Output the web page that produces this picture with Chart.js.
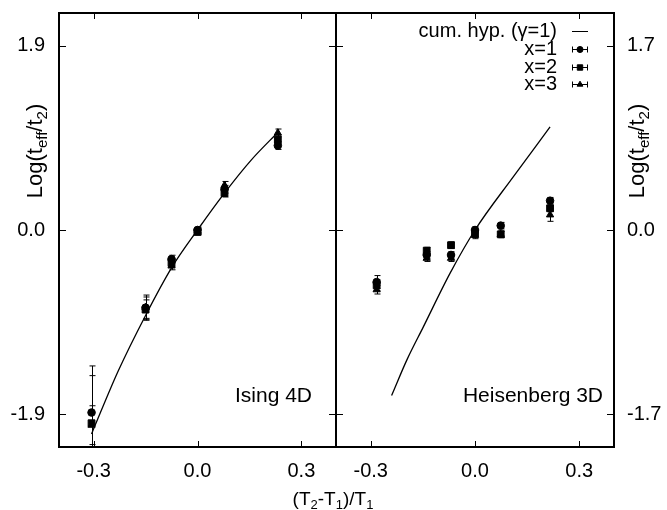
<!DOCTYPE html>
<html><head><meta charset="utf-8">
<script src="https://cdn.jsdelivr.net/npm/chart.js@4/dist/chart.umd.min.js"></script>
<style>
html,body{margin:0;padding:0;background:#fff;}
#wrap{position:relative;width:667px;height:510px;overflow:hidden;}
#wrap canvas{position:absolute;left:0;top:0;}
</style></head><body>
<div id="wrap"><canvas id="c1" width="667" height="510"></canvas><canvas id="c2" width="667" height="510"></canvas></div>
<script>
// ---------- data ----------
const xTicks = [-0.3, 0.0, 0.3];
const yTicksLeft = [-1.9, 0.0, 1.9];
const yTicksRight = [-1.7, 0.0, 1.7];

// Ising 4D (left panel)
const isingT = [-0.306, -0.150, -0.075, 0.000, 0.078, 0.232];
const ising_x1 = [-1.88, -0.80, -0.30, 0.00, 0.42, 0.87];
const ising_x1_err = [0.48, 0.11, 0.04, 0.03, 0.04, 0.04];
const ising_x2 = [-1.99, -0.82, -0.34, -0.02, 0.38, 0.93];
const ising_x2_err = [0.49, 0.10, 0.04, 0.03, 0.04, 0.04];
const ising_x3 = [-2.01, -0.80, -0.37, -0.01, 0.46, 1.00];
const ising_x3_err = [0.20, 0.13, 0.04, 0.03, 0.04, 0.04];
const isingCurveT = [-0.306, -0.230, -0.150, -0.075, 0.000, 0.080, 0.155, 0.233];
const isingCurve = [-2.10, -1.46, -0.88, -0.39, 0.00, 0.39, 0.72, 1.01];

// Heisenberg 3D (right panel)
const heisT = [-0.283, -0.139, -0.069, 0.000, 0.074, 0.216];
const heis_x1 = [-0.48, -0.23, -0.23, 0.00, 0.04, 0.27];
const heis_x1_err = [0.06, 0.03, 0.03, 0.03, 0.03, 0.03];
const heis_x2 = [-0.51, -0.19, -0.14, -0.03, -0.04, 0.20];
const heis_x2_err = [0.05, 0.03, 0.03, 0.03, 0.03, 0.03];
const heis_x3 = [-0.55, -0.26, -0.26, -0.05, -0.04, 0.14];
const heis_x3_err = [0.04, 0.03, 0.03, 0.03, 0.03, 0.06];
const heisCurveT = [-0.240, -0.195, -0.149, -0.072, 0.000, 0.110, 0.216];
const heisCurve = [-1.525, -1.19, -0.895, -0.40, 0.00, 0.49, 0.95];

const seriesLabels = ['cum. hyp. (\u03b3=1)', 'x=1', 'x=2', 'x=3'];
// ---------- helpers ----------
const FONT = "'Liberation Sans', Arial, Helvetica, sans-serif";
const xy = (xs, ys) => xs.map((v, i) => ({x: v, y: ys[i]}));

function drawParts(ctx, parts, cx, cy, big, small, subDrop) {
  let w = 0;
  parts.forEach(p => { ctx.font = (p.sub ? small : big) + 'px ' + FONT; w += ctx.measureText(p.t).width; });
  let x = cx - w / 2;
  ctx.textAlign = 'left'; ctx.textBaseline = 'alphabetic';
  parts.forEach(p => {
    ctx.font = (p.sub ? small : big) + 'px ' + FONT;
    ctx.fillText(p.t, x, cy + (p.sub ? subDrop : 0));
    x += ctx.measureText(p.t).width;
  });
}
const logTitle = [{t:'Log(t'},{t:'eff',sub:true},{t:'/t'},{t:'2',sub:true},{t:')'}];
const xTitle = [{t:'(T'},{t:'2',sub:true},{t:'-T'},{t:'1',sub:true},{t:')/T'},{t:'1',sub:true}];

const panelPlugin = {
  id: 'panel',
  afterDatasetsDraw(chart, args, o) {
    const {ctx, chartArea: a, scales: {x, y}} = chart;
    ctx.save();
    ctx.strokeStyle = '#000'; ctx.fillStyle = '#000';
    // error bars
    ctx.save();
    ctx.beginPath(); ctx.rect(a.left, a.top, a.right - a.left, a.bottom - a.top); ctx.clip();
    ctx.lineWidth = 1;
    chart.data.datasets.forEach(ds => {
      if (!ds.err) return;
      ds.data.forEach((p, j) => {
        const e = ds.err[j];
        const px = Math.round(x.getPixelForValue(p.x)) + 0.5;
        const y1 = y.getPixelForValue(p.y + e), y2 = y.getPixelForValue(p.y - e);
        ctx.beginPath();
        ctx.moveTo(px, y1); ctx.lineTo(px, y2);
        ctx.moveTo(px - 3, y1); ctx.lineTo(px + 3, y1);
        ctx.moveTo(px - 3, y2); ctx.lineTo(px + 3, y2);
        ctx.stroke();
      });
    });
    ctx.restore();
    // inner ticks
    ctx.lineWidth = 1;
    ctx.beginPath();
    x.ticks.forEach(t => {
      const px = Math.round(x.getPixelForValue(t.value)) + 0.5;
      ctx.moveTo(px, a.bottom); ctx.lineTo(px, a.bottom - 6);
      ctx.moveTo(px, a.top); ctx.lineTo(px, a.top + 6);
    });
    y.ticks.forEach(t => {
      const py = Math.round(y.getPixelForValue(t.value)) + 0.5;
      ctx.moveTo(a.left, py); ctx.lineTo(a.left + 7, py);
      ctx.moveTo(a.right, py); ctx.lineTo(a.right - 7, py);
    });
    ctx.stroke();
    // frame
    ctx.lineWidth = 2;
    ctx.strokeRect(a.left, a.top, a.right - a.left, a.bottom - a.top);
    // panel label
    ctx.font = '21px ' + FONT;
    ctx.textAlign = 'right'; ctx.textBaseline = 'alphabetic';
    ctx.fillText(o.label, o.labelX, o.labelY);
    // y title
    ctx.save();
    ctx.translate(o.titleX, 151);
    ctx.rotate(-Math.PI / 2);
    drawParts(ctx, logTitle, 0, 0, 22, 15, 5);
    ctx.restore();
    if (o.xTitle) drawParts(ctx, xTitle, 333, 505, 19, 13, 4);
    // legend
    if (o.legend) {
      const L = o.legend;
      chart.data.datasets.forEach((ds, i) => {
        const by = L.y0 + i * L.dy;
        ctx.font = '20px ' + FONT;
        ctx.textAlign = 'right';
        ctx.fillText(ds.label, L.textRight, by);
        const cy = Math.round(by - 6) + 0.5;
        ctx.lineWidth = 1;
        ctx.beginPath();
        ctx.moveTo(L.symL, cy); ctx.lineTo(L.symR, cy);
        if (ds.err) {
          ctx.moveTo(L.symL + 0.5, cy - 3); ctx.lineTo(L.symL + 0.5, cy + 3);
          ctx.moveTo(L.symR - 0.5, cy - 3); ctx.lineTo(L.symR - 0.5, cy + 3);
        }
        ctx.stroke();
        if (ds.err) {
          Chart.helpers.drawPoint(ctx, {pointStyle: ds.pointStyle, radius: ds.pointRadius * 0.8, rotation: 0, borderWidth: 1}, (L.symL + L.symR) / 2, cy);
        }
      });
    }
    ctx.restore();
  }
};

function makeDatasets(curveT, curve, T, s1, e1, s2, e2, s3, e3) {
  const pt = (label, data, err, style, r) => ({label, data, err, pointStyle: style, pointRadius: r,
    backgroundColor: '#000', borderColor: '#000', borderWidth: 1, showLine: false});
  return [
    {type: 'line', label: seriesLabels[0], data: xy(curveT, curve), borderColor: '#000', borderWidth: 1.3,
     pointRadius: 0, cubicInterpolationMode: 'monotone', fill: false},
    pt(seriesLabels[1], xy(T, s1), e1, 'circle', 3.8),
    pt(seriesLabels[2], xy(T, s2), e2, 'rect', 4.8),
    pt(seriesLabels[3], xy(T, s3), e3, 'triangle', 4.2)
  ];
}

function scalesFor(yTicks, yMax, yPos, yWidth, yPad) {
  const tickFont = {family: FONT, size: 20};
  return {
    x: {type: 'linear', min: -0.4, max: 0.4,
        afterBuildTicks: s => { s.ticks = xTicks.map(v => ({value: v})); },
        afterFit: s => { s.height = 63; s.paddingLeft = 0; s.paddingRight = 0; s.paddingTop = 0; s.paddingBottom = 0; },
        ticks: {callback: v => v.toFixed(1), font: tickFont, color: '#000', padding: 12, maxRotation: 0, autoSkip: false},
        grid: {display: false, drawTicks: false}, border: {display: false}},
    y: {type: 'linear', position: yPos, min: -yMax, max: yMax,
        afterBuildTicks: s => { s.ticks = yTicks.map(v => ({value: v})); },
        afterFit: s => { s.width = yWidth; s.paddingTop = 0; s.paddingBottom = 0; s.paddingLeft = 0; s.paddingRight = 0; },
        ticks: {callback: v => v.toFixed(1), font: tickFont, color: '#000', padding: yPad, autoSkip: false},
        grid: {display: false, drawTicks: false}, border: {display: false}}
  };
}

new Chart(document.getElementById('c1'), {
  type: 'scatter',
  data: {datasets: makeDatasets(isingCurveT, isingCurve, isingT, ising_x1, ising_x1_err, ising_x2, ising_x2_err, ising_x3, ising_x3_err)},
  options: {
    responsive: false, animation: false, devicePixelRatio: 1,
    layout: {padding: {left: 0, right: 331, top: 13, bottom: 0}},
    scales: scalesFor(yTicksLeft, 2.235, 'left', 59, 14),
    plugins: {legend: {display: false}, tooltip: {enabled: false},
      panel: {label: 'Ising 4D', labelX: 312, labelY: 402, titleX: 42, xTitle: true}}
  },
  plugins: [panelPlugin]
});

new Chart(document.getElementById('c2'), {
  type: 'scatter',
  data: {datasets: makeDatasets(heisCurveT, heisCurve, heisT, heis_x1, heis_x1_err, heis_x2, heis_x2_err, heis_x3, heis_x3_err)},
  options: {
    responsive: false, animation: false, devicePixelRatio: 1,
    layout: {padding: {left: 336, right: 0, top: 13, bottom: 0}},
    scales: scalesFor(yTicksRight, 2.0, 'right', 53, 13),
    plugins: {legend: {display: false}, tooltip: {enabled: false},
      panel: {label: 'Heisenberg 3D', labelX: 603, labelY: 402, titleX: 644, xTitle: false,
              legend: {textRight: 557, symL: 572, symR: 588, y0: 37, dy: 17.8}}}
  },
  plugins: [panelPlugin]
});
</script>
</body></html>
